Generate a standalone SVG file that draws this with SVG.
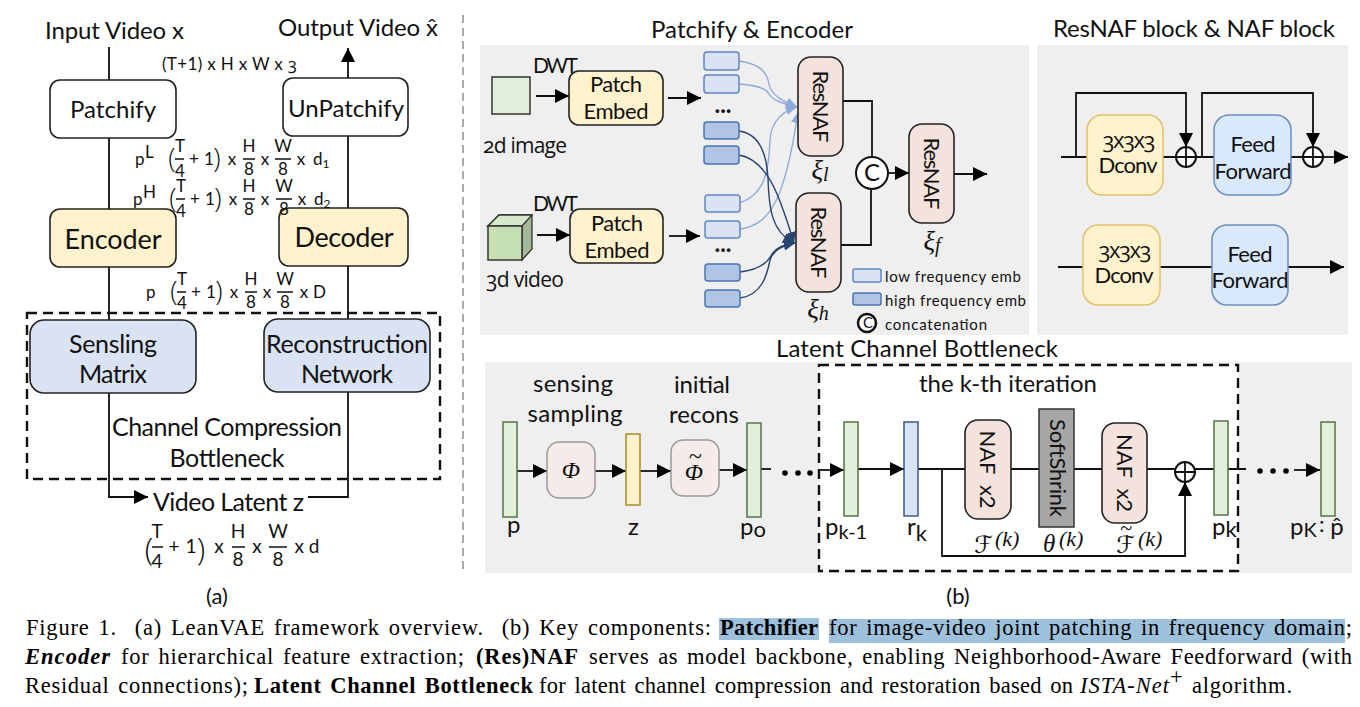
<svg xmlns="http://www.w3.org/2000/svg" width="1360" height="707" viewBox="0 0 1360 707">
<style>
text{font-family:Lato,"Open Sans",sans-serif;fill:#111}
.m{text-anchor:middle}
.os{font-family:"Open Sans",sans-serif;font-variant-numeric:oldstyle-nums}
.s14{font-size:15px}.s17{font-size:17px}.s19{font-size:19px}.s20{font-size:22px}.s21{font-size:21px}.s22{font-size:24px}.s24{font-size:25px}.s27{font-size:27px}.s28{font-size:29px}
.par{font-family:"Open Sans",sans-serif;font-weight:300;font-size:27px}
.parb{font-family:"Open Sans",sans-serif;font-weight:300;font-size:31px}
.it{font-family:"Liberation Serif",serif;font-style:italic}
.scr{font-family:"DejaVu Sans",sans-serif;font-size:24px}
.cap{font-family:"Liberation Serif",serif;font-size:22.500px;fill:#000;word-spacing:2.500px}
.b{font-weight:bold}.i{font-style:italic}
.box{stroke:#222;stroke-width:1.6}
.white{fill:#fff}.yel{fill:#fff2cc}.blu{fill:#dae3f3}.pink{fill:#f4e3dc}
.pan{fill:#efefef}
.lo{fill:#dae3f3;stroke:#5f86c0;stroke-width:1.5}
.hi{fill:#b0c5e5;stroke:#4a74b4;stroke-width:1.5}
.grn{fill:#e2efda;stroke:#55734a;stroke-width:1.5}
.dc{fill:#fff2cc;stroke:#dfc16f;stroke-width:1.5}
.ff{fill:#dae8fc;stroke:#6c8ebf;stroke-width:1.5}
.phi{fill:#f5ebe8;stroke:#999;stroke-width:1.5}
.ln{fill:none;stroke:#111;stroke-width:1.8}
.ar{marker-end:url(#ah)}
.cl{fill:none;stroke:#8eaadb;stroke-width:1.4;marker-end:url(#al)}
.cd{fill:none;stroke:#2a4470;stroke-width:1.4;marker-end:url(#ad)}
.dash{fill:none;stroke:#111;stroke-width:2.400;stroke-dasharray:10 6}
.frac{stroke:#111;stroke-width:1.5}
.op{fill:#fff;stroke:#111;stroke-width:2}
</style>
<defs>
<marker id="ah" markerUnits="userSpaceOnUse" markerWidth="14" markerHeight="14" refX="14" refY="7" orient="auto"><path d="M0,0L14,7L0,14z" fill="#000"/></marker>
<marker id="al" markerUnits="userSpaceOnUse" markerWidth="11" markerHeight="11" refX="11" refY="5.500" orient="auto"><path d="M0,0L11,5.500L0,11z" fill="#8eaadb"/></marker>
<marker id="ad" markerUnits="userSpaceOnUse" markerWidth="11" markerHeight="11" refX="11" refY="5.500" orient="auto"><path d="M0,0L11,5.500L0,11z" fill="#2a4470"/></marker>
</defs>
<rect width="1360" height="707" fill="#fff"/>
<path d="M463,15V570" stroke="#aaa" stroke-width="2" stroke-dasharray="8 5"/>
<rect class="pan" x="480" y="45" width="549" height="290"/>
<rect class="pan" x="1037" y="45" width="311" height="290"/>
<rect class="pan" x="485" y="362" width="867" height="211"/>
<rect x="819" y="365" width="419" height="206" fill="#fff"/>

<g id="connectors">
<path class="ln" d="M109,47V80M109,138V209M109,267V320"/>
<path class="ln ar" d="M348,78V48"/>
<path class="ln" d="M348,136V208M348,265V319"/>
<path class="ln ar" d="M109,393V497H148"/>
<path class="ln" d="M348,392V497H308"/>
<path class="ln ar" d="M536,96H569"/><path class="ln ar" d="M668,98H701"/>
<path class="ln ar" d="M537,235H570"/><path class="ln ar" d="M669,236H700"/>
<path class="cl" d="M739,61C760,64 767,72 769,84C771,96 785,102 797,107"/>
<path class="cl" d="M739,84C755,85 766,88 769,94C773,101 785,104 797,107"/>
<path class="cl" d="M739,203C765,195 769,170 770,140C771,120 785,110 797,107"/>
<path class="cl" d="M740,229C770,225 785,200 798,112"/>
<path class="cd" d="M739,131C762,134 767,160 768,178C769,210 772,232 794,243"/>
<path class="cd" d="M739,155C770,160 782,205 794,243"/>
<path class="cd" d="M740,272C760,270 768,262 772,254C777,247 785,244 795,243"/>
<path class="cd" d="M740,298C762,295 767,275 770,260C773,250 785,245 795,243"/>
<path class="ln" d="M843,101H872V157M841,245H871V189"/>
<path class="ln ar" d="M888,173H909"/><path class="ln ar" d="M954,174H987"/>
<path class="ln" d="M1061,157H1087M1163,157H1176M1196,157H1214M1291,157H1303"/>
<path class="ln ar" d="M1076,157V93H1186V147"/>
<path class="ln ar" d="M1202,157V93H1313V147"/>
<path class="ln ar" d="M1323,157H1348"/>
<path class="ln" d="M1058,267H1083M1160,267H1212"/>
<path class="ln ar" d="M1288,267H1344"/>
<path class="ln ar" d="M517,471H547"/><path class="ln ar" d="M595,471H626"/><path class="ln ar" d="M640,471H671"/><path class="ln ar" d="M719,470H747"/>
<path class="ln" d="M761,469H771"/>
<path class="ln ar" d="M819,470H844"/><path class="ln ar" d="M858,469H904"/>
<path class="ln" d="M918,469H965M1011,469H1039M1074,469H1102M1147,469H1175M1195,469H1214M1228,469H1246"/>
<path class="ln ar" d="M942,469V556H1185V482"/>
<path class="ln ar" d="M1294,470H1320"/>
</g>

<g id="frame-bottleneck"><rect class="dash" x="27" y="313" width="413" height="166"/></g>
<g id="frame-iteration"><rect class="dash" x="819" y="365" width="419" height="206"/></g>

<g id="left-labels">
<text class="s22" x="45" y="39" textLength="139">Input Video x</text>
<text class="s22" x="278" y="36" textLength="160">Output Video x̂</text>
<text class="s17" x="162" y="70" textLength="135">(T+1) x H x W x <tspan class="os">3</tspan></text>
</g>
<g id="patchify"><rect class="box white" x="50" y="80" width="126" height="58" rx="10"/><text class="s22 m" x="113" y="118" textLength="86">Patchify</text></g>
<g id="unpatchify"><rect class="box white" x="283" y="78" width="125" height="58" rx="10"/><text class="s22 m" x="346" y="117" textLength="116">UnPatchify</text></g>
<g id="encoder"><rect class="box yel" x="50" y="209" width="126" height="58" rx="10"/><text class="s27 m" x="113" y="249" textLength="97">Encoder</text></g>
<g id="decoder"><rect class="box yel" x="279" y="208" width="129" height="58" rx="10"/><text class="s27 m" x="344" y="247" textLength="99">Decoder</text></g>
<g id="sensing"><rect class="box blu" x="30" y="320" width="166" height="73" rx="14"/><text class="s24 m" x="113" y="353" textLength="88">Sensling</text><text class="s24 m" x="113" y="383" textLength="68">Matrix</text></g>
<g id="reconstruction"><rect class="box blu" x="264" y="319" width="166" height="73" rx="14"/><text class="s24 m" x="347" y="353" textLength="162">Reconstruction</text><text class="s24 m" x="347" y="383" textLength="92">Network</text></g>
<g id="bottleneck-label"><text class="s24 m" x="227" y="436" textLength="230">Channel Compression</text><text class="s24 m" x="227" y="467" textLength="115">Bottleneck</text></g>
<g id="latent"><text class="s24" x="153" y="511" textLength="151">Video Latent z</text></g>

<g id="formula-1" class="s17">
<text x="135" y="165">p</text><text x="145" y="158">L</text>
<text class="par m" x="172" y="168">(</text><text class="m" x="180" y="152">T</text><path class="frac" d="M175,159H184"/><text class="m" x="180" y="177">4</text>
<text class="m" x="194" y="165">+</text><text class="m" x="209" y="165">1</text><text class="par m" x="217" y="168">)</text>
<text class="m" x="232" y="165">x</text><text class="m" x="249" y="152">H</text><path class="frac" d="M243,159H255"/><text class="m" x="249" y="175">8</text>
<text class="m" x="265" y="165">x</text><text class="m" x="283" y="152">W</text><path class="frac" d="M275,159H291"/><text class="m" x="283" y="175">8</text>
<text class="m" x="301" y="165">x</text><text x="313" y="165">d<tspan font-size="12" dy="3">1</tspan></text>
</g>
<g id="formula-2" class="s17">
<text x="133" y="205">p</text><text x="143" y="198">H</text>
<text class="par m" x="173" y="208">(</text><text class="m" x="181" y="192">T</text><path class="frac" d="M176,199H185"/><text class="m" x="181" y="217">4</text>
<text class="m" x="195" y="205">+</text><text class="m" x="210" y="205">1</text><text class="par m" x="218" y="208">)</text>
<text class="m" x="233" y="205">x</text><text class="m" x="249" y="192">H</text><path class="frac" d="M243,199H255"/><text class="m" x="249" y="215">8</text>
<text class="m" x="265" y="205">x</text><text class="m" x="284" y="192">W</text><path class="frac" d="M276,199H292"/><text class="m" x="284" y="215">8</text>
<text class="m" x="302" y="205">x</text><text x="314" y="205">d<tspan font-size="12" dy="3">2</tspan></text>
</g>
<g id="formula-3" class="s17">
<text x="146" y="298">p</text>
<text class="par m" x="174" y="301">(</text><text class="m" x="182" y="285">T</text><path class="frac" d="M177,292H186"/><text class="m" x="182" y="309">4</text>
<text class="m" x="196" y="298">+</text><text class="m" x="211" y="298">1</text><text class="par m" x="219" y="301">)</text>
<text class="m" x="234" y="298">x</text><text class="m" x="251" y="285">H</text><path class="frac" d="M245,292H257"/><text class="m" x="251" y="308">8</text>
<text class="m" x="267" y="298">x</text><text class="m" x="285" y="285">W</text><path class="frac" d="M277,292H293"/><text class="m" x="285" y="308">8</text>
<text class="m" x="304" y="298">x</text><text x="313" y="298">D</text>
</g>
<g id="formula-4" class="s19">
<text class="parb m" x="149" y="560">(</text><text class="m" x="157" y="538">T</text><path class="frac" d="M152,547H163"/><text class="m" x="157" y="568">4</text>
<text class="m" x="174" y="553">+</text><text class="m" x="191" y="553">1</text><text class="parb m" x="201" y="560">)</text>
<text class="m" x="219" y="553">x</text><text class="m" x="238" y="538">H</text><path class="frac" d="M232,547H245"/><text class="m" x="238" y="566">8</text>
<text class="m" x="257" y="553">x</text><text class="m" x="278" y="538">W</text><path class="frac" d="M269,547H287"/><text class="m" x="278" y="566">8</text>
<text class="m" x="307" y="553" textLength="25">x d</text>
</g>
<text class="s20 m" x="217" y="604">(a)</text>
<text class="s20 m" x="958" y="604">(b)</text>

<g id="patchify-encoder">
<text class="s22" x="651" y="38" textLength="202">Patchify &amp; Encoder</text>
<text class="s21" x="533" y="73" textLength="45">DWT</text>
<text class="s21" x="533" y="211" textLength="45">DWT</text>
<text class="s21 os" x="483" y="153" textLength="84">2d image</text>
<text class="s21 os" x="486" y="287" textLength="78">3d video</text>
</g>
<g id="image-2d"><rect x="492" y="77" width="38" height="37" fill="#e2efda" stroke="#333" stroke-width="1.5"/></g>
<g id="video-3d"><path d="M488,226L499,215H532V249L522,260V226z" fill="#a3b899" stroke="#333" stroke-width="1.3"/><path d="M488,226L499,215H532L522,226z" fill="#d5e8c8" stroke="#333" stroke-width="1.3"/><rect x="488" y="226" width="34" height="34" fill="#c6e0b4" stroke="#333" stroke-width="1.5"/></g>
<g id="patch-embed-1"><rect class="box yel" x="569" y="71" width="94" height="54" rx="10"/><text class="s20 m" x="616" y="92" textLength="52">Patch</text><text class="s20 m" x="616" y="119" textLength="65">Embed</text></g>
<g id="patch-embed-2"><rect class="box yel" x="570" y="209" width="93" height="54" rx="10"/><text class="s20 m" x="617" y="231" textLength="52">Patch</text><text class="s20 m" x="617" y="258" textLength="65">Embed</text></g>
<g id="tokens">
<rect class="lo" x="704" y="52" width="35" height="18" rx="3"/><rect class="lo" x="704" y="75" width="35" height="18" rx="3"/>
<rect class="hi" x="704" y="122" width="35" height="17" rx="3"/><rect class="hi" x="704" y="146" width="35" height="18" rx="3"/>
<rect class="lo" x="705" y="195" width="35" height="17" rx="3"/><rect class="lo" x="705" y="221" width="35" height="17" rx="3"/>
<rect class="hi" x="705" y="264" width="35" height="17" rx="3"/><rect class="hi" x="705" y="290" width="35" height="17" rx="3"/>
<text class="s22 b m" x="723" y="113">...</text><text class="s22 b m" x="723" y="252">...</text>
</g>
<g id="resnaf-l"><rect class="box pink" x="798" y="57" width="45" height="99" rx="13"/><text class="s20 m" transform="translate(813,106.500) rotate(90)" textLength="72">ResNAF</text><text class="it s27 m" x="820" y="179">ξ<tspan font-size="20" dy="2">l</tspan></text></g>
<g id="resnaf-h"><rect class="box pink" x="796" y="193" width="45" height="99" rx="13"/><text class="s20 m" transform="translate(811,242.500) rotate(90)" textLength="72">ResNAF</text><text class="it s27 m" x="818" y="318">ξ<tspan font-size="20" dy="2">h</tspan></text></g>
<g id="resnaf-f"><rect class="box pink" x="909" y="124" width="45" height="99" rx="13"/><text class="s20 m" transform="translate(924,173.500) rotate(90)" textLength="72">ResNAF</text><text class="it s27 m" x="932" y="250">ξ<tspan font-size="20" dy="2">f</tspan></text></g>
<g id="concat"><circle class="op" cx="872" cy="173" r="16"/><text class="s22 m" x="872" y="181">C</text></g>
<g id="legend">
<rect class="lo" x="853" y="269" width="28" height="13" rx="2"/><text class="s14" x="885" y="282" textLength="136">low frequency emb</text>
<rect class="hi" x="853" y="293" width="28" height="12" rx="2"/><text class="s14" x="885" y="306" textLength="141">high frequency emb</text>
<circle cx="867" cy="323" r="9" fill="#fff" stroke="#111" stroke-width="2.500"/><text class="s14 m" x="868" y="328">C</text>
<text class="s14" x="885" y="330" textLength="102">concatenation</text>
</g>

<g id="resnaf-block">
<text class="s22" x="1053" y="37" textLength="282">ResNAF block &amp; NAF block</text>
<rect class="dc" x="1087" y="115" width="76" height="80" rx="15"/><text class="s20 os m" x="1129" y="148" textLength="53">3x3x3</text><text class="s20 m" x="1128" y="173" textLength="59">Dconv</text>
<rect class="ff" x="1214" y="115" width="77" height="80" rx="15"/><text class="s20 m" x="1253" y="152" textLength="45">Feed</text><text class="s20 m" x="1253" y="179" textLength="77">Forward</text>
<circle class="op" cx="1186" cy="157" r="10"/><path class="ln" d="M1176,157H1196M1186,147V167"/>
<circle class="op" cx="1313" cy="157" r="10"/><path class="ln" d="M1303,157H1323M1313,147V167"/>
</g>
<g id="naf-block">
<rect class="dc" x="1083" y="225" width="77" height="80" rx="15"/><text class="s20 os m" x="1125" y="258" textLength="53">3x3x3</text><text class="s20 m" x="1124" y="283" textLength="59">Dconv</text>
<rect class="ff" x="1212" y="225" width="76" height="80" rx="15"/><text class="s20 m" x="1250" y="262" textLength="45">Feed</text><text class="s20 m" x="1250" y="288" textLength="77">Forward</text>
</g>

<g id="latent-bottleneck">
<text class="s22" x="776" y="357" textLength="282">Latent Channel Bottleneck</text>
<text class="s22 m" x="573" y="392" textLength="80">sensing</text><text class="s22 m" x="575" y="422" textLength="95">sampling</text>
<text class="s22 m" x="702" y="393" textLength="56">initial</text><text class="s22 m" x="704" y="423" textLength="70">recons</text>
<text class="s22" x="919" y="392" textLength="178">the k-th iteration</text>
</g>
<g id="bar-p"><rect class="grn" x="503" y="422" width="14" height="95"/><text class="s22" x="507" y="533">p</text></g>
<g id="phi"><rect class="phi" x="547" y="442" width="48" height="56" rx="12"/><text class="it s22 m" x="571" y="478">Φ</text></g>
<g id="bar-z"><rect x="626" y="434" width="14" height="71" fill="#fff2cc" stroke="#a88a2a" stroke-width="1.5"/><text class="s22" x="628" y="535">z</text></g>
<g id="phi-tilde"><rect class="phi" x="671" y="440" width="48" height="56" rx="12"/><text class="it s22 m" x="694" y="480">Φ</text><text class="it s22 m" x="695" y="464">~</text></g>
<g id="bar-p0"><rect class="grn" x="747" y="423" width="14" height="94"/><text class="s22" x="740" y="535">p<tspan font-size="22" dy="2">o</tspan></text></g>
<g id="dots-1"><circle cx="785" cy="473" r="2.800"/><circle cx="798" cy="473" r="2.800"/><circle cx="810" cy="473" r="2.800"/></g>
<g id="bar-pk1"><rect class="grn" x="844" y="422" width="14" height="94"/><text class="s22" x="825" y="535">p<tspan font-size="20" dy="4">k-1</tspan></text></g>
<g id="bar-rk"><rect x="904" y="422" width="14" height="94" fill="#dae3f3" stroke="#3b5a8a" stroke-width="1.5"/><text class="s22" x="907" y="535">r<tspan font-size="22" dy="6">k</tspan></text></g>
<g id="naf-1"><rect class="box pink" x="965" y="420" width="46" height="99" rx="13"/><text class="s20 m" transform="translate(980,469.500) rotate(90)" textLength="78" xml:space="preserve">NAF  x2</text><text class="scr" x="974" y="553">ℱ</text><text class="it s20" x="995" y="546">(k)</text></g>
<g id="softshrink"><rect x="1039" y="409" width="35" height="118" fill="#a6a6a6" stroke="#333" stroke-width="1.500"/><text class="s20 m" transform="translate(1050,468) rotate(90)" textLength="98">SoftShrink</text><text class="it s24" x="1043" y="552">θ</text><text class="it s20" x="1059" y="546">(k)</text></g>
<g id="naf-2"><rect class="box pink" x="1102" y="423" width="45" height="100" rx="13"/><text class="s20 m" transform="translate(1117,473) rotate(90)" textLength="78" xml:space="preserve">NAF  x2</text><text class="scr" x="1116" y="553">ℱ</text><text class="it s20" x="1120" y="535">~</text><text class="it s20" x="1138" y="546">(k)</text></g>
<g id="add-k"><circle class="op" cx="1185" cy="472" r="10"/><path class="ln" d="M1175,472H1195M1185,462V482"/></g>
<g id="bar-pk"><rect class="grn" x="1214" y="421" width="14" height="94"/><text class="s22" x="1212" y="535">p<tspan font-size="22" dy="2">k</tspan></text></g>
<g id="dots-2"><circle cx="1260" cy="471" r="2.800"/><circle cx="1273" cy="471" r="2.800"/><circle cx="1286" cy="471" r="2.800"/></g>
<g id="bar-pK"><rect class="grn" x="1321" y="422" width="14" height="94"/><text class="s22" x="1290" y="535">p<tspan font-size="20" dy="2">K</tspan></text><text class="s20" x="1319" y="532">:</text><text class="s22 m" x="1337" y="535">p̂</text></g>

<g id="caption">
<rect x="719" y="618" width="100" height="22" fill="#9ec1dc"/>
<rect x="829" y="619" width="516" height="24" fill="#9ec1dc"/>
<text class="cap" x="26" y="635" textLength="685" xml:space="preserve">Figure 1.  (a) LeanVAE framework overview.  (b) Key components:</text>
<text class="cap b" x="720" y="635" textLength="98">Patchifier</text>
<text class="cap" x="829" y="635" textLength="523">for image-video joint patching in frequency domain;</text>
<text class="cap b i" x="25" y="664" textLength="85">Encoder</text>
<text class="cap" x="121" y="664" textLength="343">for hierarchical feature extraction;</text>
<text class="cap b" x="476" y="664" textLength="102">(Res)NAF</text>
<text class="cap" x="589" y="664" textLength="763">serves as model backbone, enabling Neighborhood-Aware Feedforward (with</text>
<text class="cap" x="25" y="693" textLength="223">Residual connections);</text>
<text class="cap b" x="254" y="693" textLength="279">Latent Channel Bottleneck</text>
<text class="cap" x="539" y="693" textLength="534">for latent channel compression and restoration based on</text>
<text class="cap i" x="1080" y="693" textLength="89">ISTA-Net</text>
<text class="cap" x="1170" y="684" textLength="13">+</text>
<text class="cap" x="1192" y="693" textLength="100">algorithm.</text>
</g>
</svg>
